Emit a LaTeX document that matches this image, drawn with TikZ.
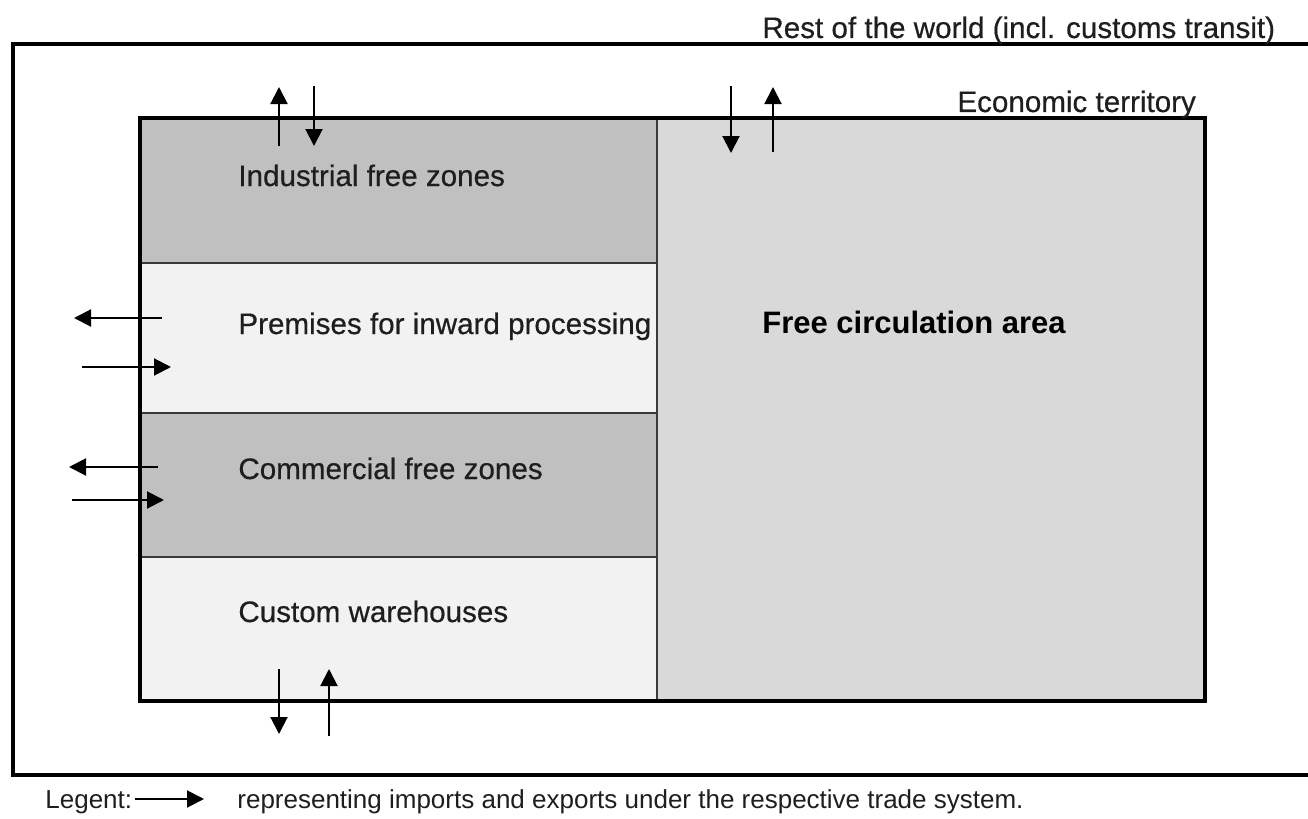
\documentclass[tikz,border=0pt]{standalone}
\usepackage{fontspec}
\setmainfont{Liberation Sans}
\newfontfamily\labelfont[FakeBold=0.5]{Liberation Sans}
\usetikzlibrary{arrows.meta}
\definecolor{zonedark}{HTML}{C0C0C0}
\definecolor{zonelight}{HTML}{F2F2F2}
\definecolor{freearea}{HTML}{D9D9D9}
\definecolor{divider}{HTML}{3A3A3A}
\definecolor{txt}{HTML}{1E1E1E}
\begin{document}
\begin{tikzpicture}[x=0.5pt,y=-0.5pt,
  flow/.style={-{Triangle[width=8.5pt,length=8.5pt]}, line width=1pt},
  zonebox/.style={draw=divider, line width=1pt},
  zonelabel/.style={anchor=base west, inner sep=0pt, text=txt, font=\labelfont\fontsize{14.8}{18}\selectfont},
  biglabel/.style={anchor=base west, inner sep=0pt, text=black, font=\fontsize{15.5}{18}\selectfont\bfseries},
  legendtext/.style={anchor=base west, inner sep=0pt, text=txt, font=\fontsize{13}{16}\selectfont}]
\useasboundingbox (0,0) rectangle (1308,819);
\fill[white] (0,0) rectangle (1308,819);

% outer frame (rest of the world)
\draw[line width=2pt] (1330,44) -- (13,44) -- (13,775) -- (1330,775);

% zones
\filldraw[zonebox, fill=zonedark]  (140,118) rectangle (657,263);
\filldraw[zonebox, fill=zonelight] (140,263) rectangle (657,413);
\filldraw[zonebox, fill=zonedark]  (140,413) rectangle (657,557);
\filldraw[zonebox, fill=zonelight] (140,557) rectangle (657,701);
\filldraw[zonebox, fill=freearea]  (657,118) rectangle (1205,701);
\draw[line width=1.6pt] (140,118) rectangle (1205,701);

% labels
\node[zonelabel] (ind)  at (238,186) {Industrial free zones};
\node[zonelabel] (prem) at (238,334) {Premises for inward processing};
\node[zonelabel] (com)  at (238,479) {Commercial free zones};
\node[zonelabel] (cust) at (238,622) {Custom warehouses};
\node[biglabel]  (free) at (762,333) {Free circulation area};
\node[zonelabel] (row)  at (762,38)  {Rest of the world (incl. customs transit)};
\node[zonelabel] (eco)  at (957,112) {Economic territory};

% arrow end points
\coordinate (a1s) at (279,146); \coordinate (a1e) at (279,87);
\coordinate (a2s) at (314,86);  \coordinate (a2e) at (314,146);
\coordinate (a3s) at (731,86);  \coordinate (a3e) at (731,153);
\coordinate (a4s) at (773,152); \coordinate (a4e) at (773,87);
\coordinate (a5s) at (162,318); \coordinate (a5e) at (74,318);
\coordinate (a6s) at (82,367);  \coordinate (a6e) at (171,367);
\coordinate (a7s) at (158,467); \coordinate (a7e) at (69,467);
\coordinate (a8s) at (72,500);  \coordinate (a8e) at (164,500);
\coordinate (a9s) at (279,669); \coordinate (a9e) at (279,734);
\coordinate (b1s) at (329,736); \coordinate (b1e) at (329,669);
\coordinate (lgs) at (135,799); \coordinate (lge) at (204,799);

\draw[flow] (a1s) -- (a1e);
\draw[flow] (a2s) -- (a2e);
\draw[flow] (a3s) -- (a3e);
\draw[flow] (a4s) -- (a4e);
\draw[flow] (a5s) -- (a5e);
\draw[flow] (a6s) -- (a6e);
\draw[flow] (a7s) -- (a7e);
\draw[flow] (a8s) -- (a8e);
\draw[flow] (a9s) -- (a9e);
\draw[flow] (b1s) -- (b1e);

% legend
\node[legendtext] (leg) at (45,808) {Legent:};
\draw[flow] (lgs) -- (lge);
\node[legendtext] (legtxt) at (237,808) {representing imports and exports under the respective trade system.};
\end{tikzpicture}
\end{document}
